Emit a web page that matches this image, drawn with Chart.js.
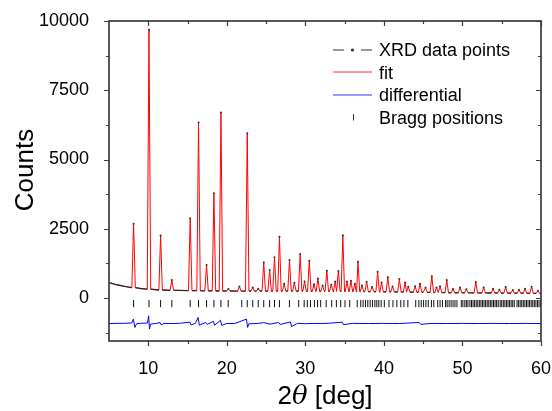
<!DOCTYPE html>
<html>
<head>
<meta charset="utf-8">
<script src="https://cdn.jsdelivr.net/npm/chart.js@4.4.0/dist/chart.umd.min.js"></script>
<style>
  html, body { margin: 0; padding: 0; background: #fff; }
</style>
</head>
<body>
<canvas id="xrd" width="552" height="411"></canvas>
<script>
const xTicks = [10, 20, 30, 40, 50, 60];
const xMinorTicks = [15, 25, 35, 45, 55];
const yTicks = [0, 2500, 5000, 7500, 10000];
const yMinorTicks = [-1250, 1250, 3750, 6250, 8750];

// background level, one value per degree from 5 to 60
const bgStart = 5;
const background = [560, 480, 420, 375, 345, 320, 300, 290, 280, 275,
  270, 265, 262, 258, 255, 255, 252, 250, 250, 250,
  250, 250, 250, 250, 250, 248, 246, 244, 242, 240,
  238, 236, 234, 232, 230, 226, 222, 218, 214, 210,
  206, 202, 198, 195, 192, 190, 188, 186, 184, 182,
  180, 178, 176, 174, 172, 170];

// [2theta, counts at top]
const peaks = [
  [8.13, 2680], [10.09, 9680], [11.57, 2260], [13.0, 650], [15.34, 2880],
  [16.4, 6340], [17.42, 1190], [18.36, 3780], [19.25, 6700], [20.2, 330],
  [21.6, 420], [22.6, 5950], [23.3, 380], [24.0, 340], [24.7, 1280],
  [25.45, 1010], [26.07, 1470], [26.7, 2210], [27.3, 520], [27.98, 1370],
  [28.6, 550], [29.34, 1590], [29.9, 600], [30.5, 1350], [31.1, 500],
  [31.6, 710], [32.2, 450], [32.73, 990], [33.3, 480], [33.8, 600],
  [34.2, 975], [34.77, 2270], [35.3, 600], [35.8, 625], [36.3, 520],
  [36.7, 1310], [37.2, 450], [37.8, 590], [38.5, 400], [39.2, 950],
  [39.7, 560], [40.5, 750], [41.1, 420], [41.97, 690], [42.7, 560],
  [43.1, 410], [43.97, 430], [44.6, 520], [45.3, 380], [46.1, 790],
  [46.7, 380], [47.15, 430], [48.0, 650], [48.8, 330], [49.7, 385],
  [50.5, 320], [51.7, 580], [52.7, 385], [53.9, 335], [54.7, 300],
  [55.5, 400], [56.4, 290], [57.2, 300], [57.97, 335], [58.8, 410],
  [59.6, 260]
];

// [2theta, obs - calc]
const differential = [
  [5, -920], [6, -915], [7, -910], [7.9, -900], [8.1, -760], [8.3, -1060], [8.5, -930],
  [9, -910], [9.9, -900], [10.05, -640], [10.15, -1120], [10.3, -940], [11, -915],
  [11.5, -885], [11.65, -970], [12, -915], [13, -920], [14, -910], [15.3, -870],
  [15.45, -970], [16.0, -910], [16.35, -700], [16.5, -980], [17.3, -880], [17.5, -950],
  [18.3, -840], [18.45, -980], [19.2, -800], [19.35, -990], [20, -915], [21, -920],
  [22.5, -760], [22.65, -1060], [22.8, -930], [24, -915], [24.7, -885], [25.5, -940],
  [26.6, -880], [26.8, -955], [28.1, -860], [28.25, -1030], [29, -910], [30, -925],
  [31, -915], [32, -920], [33, -910], [34.7, -870], [34.85, -960], [36, -915],
  [38, -920], [40, -915], [42, -920], [44.5, -880], [44.7, -950], [46, -915],
  [48, -920], [50, -915], [52, -920], [54, -915], [56, -920], [58, -915], [60, -920]
];

const braggLevel = -200;
const braggPositions = [8.13, 10.09, 11.57, 13.0, 15.34, 16.4, 17.42, 18.36, 19.25, 20.18,
  21.9, 22.6, 23.3, 24.0, 24.7, 25.45, 26.07, 26.7, 27.97, 29.15, 29.85, 30.25, 30.65,
  31.15, 31.55, 31.95, 32.65, 33.35, 33.95, 34.5, 35.05, 35.65, 36.6, 37.05, 37.35,
  37.65, 37.95, 38.25, 38.55, 38.85, 39.1, 39.35, 39.65, 40.05, 40.65, 41.15, 41.65,
  42.15, 42.55, 43.05, 44.05, 44.45, 44.75, 45.05, 45.35, 45.65, 46.05, 46.35, 46.85,
  47.15, 47.45, 47.85, 48.05, 48.3, 48.55, 48.8, 49.05, 49.3, 49.85, 50.05, 50.3, 50.5,
  50.7, 50.95, 51.15, 51.35, 51.55, 51.75, 51.95, 52.15, 52.35, 52.55, 52.75, 52.95,
  53.15, 53.35, 53.55, 53.75, 53.95, 54.15, 54.35, 54.55, 54.8, 55.0, 55.2, 55.4, 55.6,
  55.8, 56.0, 56.2, 56.4, 56.6, 56.95, 57.15, 57.35, 57.55, 57.75, 57.95, 58.15, 58.35,
  58.55, 58.75, 58.95, 59.15, 59.35, 59.55, 59.75, 59.95];

const FONT = '"Liberation Sans", Arial, sans-serif';
const halfWidth = 0.22;

// fit curve: background samples outside peaks + each peak as base/top/base
function buildProfile() {
  const pts = [];
  background.forEach((v, i) => {
    const x = bgStart + i;
    if (!peaks.some(p => Math.abs(p[0] - x) <= halfWidth)) pts.push({ x: x, y: v, top: false });
  });
  peaks.forEach(([pos, h]) => {
    const base = background[Math.round(pos - bgStart)];
    pts.push({ x: pos - halfWidth, y: base, top: false });
    pts.push({ x: pos, y: h, top: true });
    pts.push({ x: pos + halfWidth, y: base, top: false });
  });
  return pts.sort((a, b) => a.x - b.x);
}
const profile = buildProfile();

const frame = {
  id: 'frame',
  afterDatasetsDraw(chart) {
    const { ctx, chartArea: a, scales: { x, y } } = chart;
    ctx.save();
    ctx.strokeStyle = '#3c3c3c';
    ctx.lineWidth = 1.2;
    ctx.beginPath();
    const xt = (vals, len) => vals.forEach(v => {
      const px = Math.round(x.getPixelForValue(v)) + 0.5;
      ctx.moveTo(px, a.bottom); ctx.lineTo(px, a.bottom + len);
      ctx.moveTo(px, a.top); ctx.lineTo(px, a.top + len);
    });
    const yt = (vals, len) => vals.forEach(v => {
      const py = Math.round(y.getPixelForValue(v)) + 0.5;
      ctx.moveTo(a.left, py); ctx.lineTo(a.left - len, py);
      ctx.moveTo(a.right, py); ctx.lineTo(a.right - len, py);
    });
    xt(xTicks, 5); xt(xMinorTicks, 3);
    yt(yTicks, 5); yt(yMinorTicks, 3);
    ctx.stroke();
    ctx.lineWidth = 1.7;
    ctx.strokeRect(a.left, a.top, a.right - a.left, a.bottom - a.top);
    ctx.restore();
  },
  afterDraw(chart) {
    const { ctx, chartArea: a } = chart;
    ctx.save();
    ctx.fillStyle = '#000';
    // axis titles
    ctx.font = '26px ' + FONT;
    ctx.textBaseline = 'alphabetic';
    ctx.save();
    ctx.translate(33, 170);
    ctx.rotate(-Math.PI / 2);
    ctx.textAlign = 'center';
    ctx.fillText('Counts', 0, 0);
    ctx.restore();
    const parts = [['2', '26px ' + FONT], ['\u03B8', 'italic 26px "DejaVu Serif", serif'], [' [deg]', '26px ' + FONT]];
    let total = 0;
    parts.forEach(p => { ctx.font = p[1]; total += ctx.measureText(p[0]).width; });
    let cx = (a.left + a.right) / 2 - total / 2;
    parts.forEach(p => { ctx.font = p[1]; ctx.fillText(p[0], cx, 404); cx += ctx.measureText(p[0]).width; });

    // legend
    const rows = [56, 78.5, 101, 123.5];
    const x0 = 333, x1 = 372, tx = 379;
    ctx.font = '18px ' + FONT;
    ctx.textAlign = 'left';
    chart.data.datasets.forEach((ds, i) => {
      const yb = rows[i];
      const yc = Math.round(yb - 6.5);
      ctx.fillStyle = '#000';
      ctx.fillText(ds.label, tx, yb);
      ctx.strokeStyle = ds.legendColor;
      ctx.lineWidth = 1;
      ctx.beginPath();
      if (ds.legendKind === 'dots') {
        ctx.moveTo(x0, yc); ctx.lineTo(x0 + 11, yc);
        ctx.moveTo(x1 - 11, yc); ctx.lineTo(x1, yc);
        ctx.stroke();
        ctx.fillStyle = ds.legendColor;
        ctx.beginPath();
        ctx.arc((x0 + x1) / 2, yc, 1.6, 0, Math.PI * 2);
        ctx.fill();
      } else if (ds.legendKind === 'tick') {
        ctx.moveTo(353.5, yc - 3); ctx.lineTo(353.5, yc + 3.5);
        ctx.stroke();
      } else {
        ctx.moveTo(x0, yc); ctx.lineTo(x1, yc);
        ctx.stroke();
      }
    });
    ctx.restore();
  }
};

new Chart(document.getElementById('xrd'), {
  type: 'line',
  data: {
    datasets: [
      {
        label: 'XRD data points',
        legendKind: 'dots',
        legendColor: '#333',
        data: profile.map(p => ({ x: p.x, y: p.y, top: p.top })),
        borderColor: '#2a2a2a',
        borderWidth: 1.3,
        segment: {
          borderColor: c => (profile[c.p0DataIndex].top || profile[c.p1DataIndex].top) ? 'rgba(0,0,0,0)' : 'rgba(30,30,30,0.85)'
        },
        pointRadius: c => (c.raw && c.raw.top) ? 1 : 0,
        pointBackgroundColor: '#333',
        pointBorderWidth: 0,
        order: 1
      },
      {
        label: 'fit',
        legendKind: 'line',
        legendColor: '#ff3030',
        data: profile.map(p => ({ x: p.x, y: p.y })),
        borderColor: '#ff0000',
        borderWidth: 1,
        pointRadius: 0,
        order: 2
      },
      {
        label: 'differential',
        legendKind: 'line',
        legendColor: '#3030ff',
        data: differential.map(d => ({ x: d[0], y: d[1] })),
        borderColor: '#0000ff',
        borderWidth: 1,
        pointRadius: 0,
        order: 3
      },
      {
        label: 'Bragg positions',
        legendKind: 'tick',
        legendColor: '#333',
        data: braggPositions.map(v => ({ x: v, y: braggLevel })),
        showLine: false,
        pointStyle: 'line',
        rotation: 90,
        pointRadius: 3.6,
        borderColor: '#111',
        borderWidth: 1,
        order: 4
      }
    ]
  },
  options: {
    responsive: false,
    animation: false,
    devicePixelRatio: 1,
    layout: { padding: { left: 0, right: 11, top: 21, bottom: 0 } },
    plugins: { legend: { display: false }, tooltip: { enabled: false } },
    elements: { line: { tension: 0 } },
    scales: {
      x: {
        type: 'linear',
        min: 5,
        max: 60,
        afterBuildTicks: s => { s.ticks = xTicks.map(v => ({ value: v })); },
        afterFit: s => { s.height = 70; s.paddingLeft = 0; s.paddingRight = 0; },
        grid: { display: false },
        border: { display: false },
        ticks: { color: '#000', padding: 9, font: { family: FONT, size: 18 }, maxRotation: 0, callback: v => String(v) }
      },
      y: {
        min: -1550,
        max: 10000,
        afterBuildTicks: s => { s.ticks = yTicks.map(v => ({ value: v })); },
        afterFit: s => { s.width = 109; s.paddingTop = 0; s.paddingBottom = 0; },
        grid: { display: false },
        border: { display: false },
        ticks: { color: '#000', padding: 12, font: { family: FONT, size: 18 }, callback: v => String(v) }
      }
    }
  },
  plugins: [frame]
});
</script>
</body>
</html>
